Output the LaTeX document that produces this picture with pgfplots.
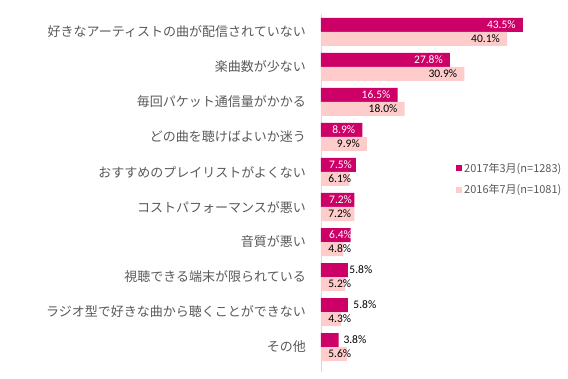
\documentclass[border=0pt]{standalone}
\usepackage{pgfplots}
\pgfplotsset{compat=1.18}
\usepackage{fontspec}
\setmainfont{Noto Sans CJK JP}
\newfontfamily\numfont{Carlito}
\definecolor{dark}{HTML}{CC0066}
\definecolor{light}{HTML}{FFCCCC}
\definecolor{txt}{HTML}{595959}
\begin{document}
\begin{tikzpicture}
\path[use as bounding box] (-321pt,-6pt) rectangle (247pt,372pt);
\begin{axis}[
 at={(0pt,0pt)}, anchor=south west,
 scale only axis, width=232pt, height=358pt,
 xmin=0, xmax=50, ymin=-0.714, ymax=9.514,
 axis x line=none, axis y line=left,
 y axis line style={-, draw=black!15, line width=0.8pt},
 ytick={0,...,9}, major tick length=0pt,
 yticklabels={その他,ラジオ型で好きな曲から聴くことができない,視聴できる端末が限られている,音質が悪い,コストパフォーマンスが悪い,おすすめのプレイリストがよくない,どの曲を聴けばよいか迷う,毎回パケット通信量がかかる,楽曲数が少ない,好きなアーティストの曲が配信されていない},
 yticklabel style={font=\fontsize{13}{15}\selectfont, text=txt, inner sep=0pt},
 yticklabel shift=15pt,
 legend style={at={(0.582,0.539)}, anchor=west, draw=none, fill=none, inner sep=0pt,
   font=\fontsize{11}{13}\selectfont, text=txt, row sep=7pt},
 legend cell align=left,
]
\addplot[xbar, bar width=14pt, bar shift=7pt, fill=dark, draw=none,
  legend image code/.code={\fill[dark] (0pt,-3pt) rectangle (6pt,3pt);}]
  coordinates {(43.5,9) (27.8,8) (16.5,7) (8.9,6) (7.5,5) (7.2,4) (6.4,3) (5.8,2) (5.8,1) (3.8,0)};
\addlegendentry{2017年3月(n=1283)}
\addplot[xbar, bar width=14pt, bar shift=-7pt, fill=light, draw=none,
  legend image code/.code={\fill[light] (0pt,-3pt) rectangle (6pt,3pt);}]
  coordinates {(40.1,9) (30.9,8) (18.0,7) (9.9,6) (6.1,5) (7.2,4) (4.8,3) (5.2,2) (4.3,1) (5.6,0)};
\addlegendentry{2016年7月(n=1081)}
% labels
\addplot[draw=none, forget plot, nodes near coords={\pgfplotspointmeta\%}, point meta=explicit symbolic,
  nodes near coords style={anchor=east, yshift=7pt, text=white, font=\numfont\fontsize{11.5}{13}\selectfont, inner sep=0pt}]
  coordinates {(41.99,9) [43.5] (26.29,8) [27.8] (14.99,7) [16.5] (7.39,6) [8.9]};
\addplot[draw=none, forget plot, nodes near coords={\pgfplotspointmeta\%}, point meta=explicit symbolic,
  nodes near coords style={anchor=west, yshift=7pt, text=white, font=\numfont\fontsize{11.5}{13}\selectfont, inner sep=0pt}]
  coordinates {(1.72,5) [7.5] (1.72,4) [7.2] (1.72,3) [6.4]};
\addplot[draw=none, forget plot, nodes near coords={\pgfplotspointmeta\%}, point meta=explicit symbolic,
  nodes near coords style={anchor=west, yshift=7pt, text=black, font=\numfont\fontsize{11.5}{13}\selectfont, inner sep=0pt}]
  coordinates {(6.1,2) [5.8] (6.96,1) [5.8] (4.81,0) [3.8]};
\addplot[draw=none, forget plot, nodes near coords={\pgfplotspointmeta\%}, point meta=explicit symbolic,
  nodes near coords style={anchor=east, yshift=-7pt, text=black, font=\numfont\fontsize{11.5}{13}\selectfont, inner sep=0pt}]
  coordinates {(38.59,9) [40.1] (29.39,8) [30.9] (16.49,7) [18.0] (8.39,6) [9.9]};
\addplot[draw=none, forget plot, nodes near coords={\pgfplotspointmeta\%}, point meta=explicit symbolic,
  nodes near coords style={anchor=west, yshift=-7pt, text=black, font=\numfont\fontsize{11.5}{13}\selectfont, inner sep=0pt}]
  coordinates {(1.55,5) [6.1] (1.55,4) [7.2] (1.55,3) [4.8] (1.55,2) [5.2] (1.55,1) [4.3] (1.55,0) [5.6]};
\end{axis}
\end{tikzpicture}
\end{document}
